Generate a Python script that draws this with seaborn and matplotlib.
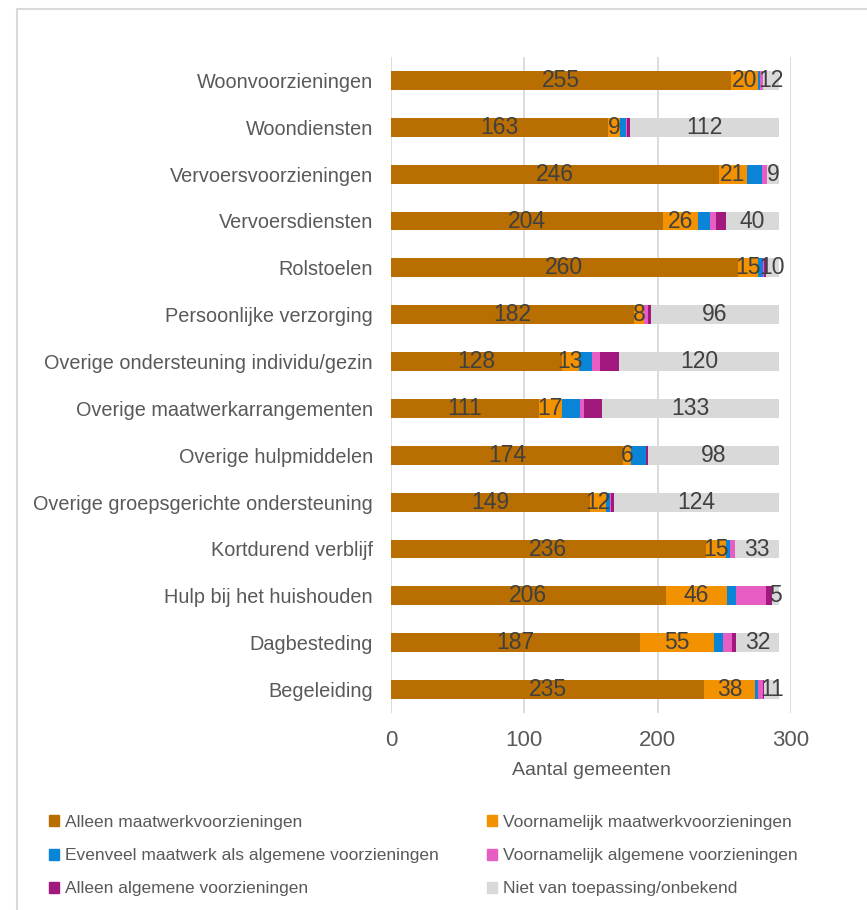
import numpy as np
import pandas as pd
import matplotlib
matplotlib.use("Agg")
import matplotlib.pyplot as plt
import seaborn as sns
from matplotlib.lines import Line2D

# Categories (top to bottom) and the six stacked series
categories = [
    "Woonvoorzieningen", "Woondiensten", "Vervoersvoorzieningen", "Vervoersdiensten",
    "Rolstoelen", "Persoonlijke verzorging", "Overige ondersteuning individu/gezin",
    "Overige maatwerkarrangementen", "Overige hulpmiddelen",
    "Overige groepsgerichte ondersteuning", "Kortdurend verblijf",
    "Hulp bij het huishouden", "Dagbesteding", "Begeleiding",
]
alleen_maatwerk = [255, 163, 246, 204, 260, 182, 128, 111, 174, 149, 236, 206, 187, 235]
voornamelijk_maatwerk = [20, 9, 21, 26, 15, 8, 13, 17, 6, 12, 15, 46, 55, 38]
evenveel = [2, 4, 11, 9, 4, 0, 10, 14, 11, 3, 3, 7, 7, 2]
voornamelijk_algemeen = [2, 1, 4, 5, 1, 3, 6, 3, 0, 1, 4, 22, 7, 4]
alleen_algemeen = [0, 2, 0, 7, 1, 2, 14, 13, 2, 2, 0, 5, 3, 1]
niet_van_toepassing = [12, 112, 9, 40, 10, 96, 120, 133, 98, 124, 33, 5, 32, 11]

series_names = [
    "Alleen maatwerkvoorzieningen", "Voornamelijk maatwerkvoorzieningen",
    "Evenveel maatwerk als algemene voorzieningen", "Voornamelijk algemene voorzieningen",
    "Alleen algemene voorzieningen", "Niet van toepassing/onbekend",
]
colors = ["#B86E00", "#F39200", "#0A84D6", "#E65DC3", "#A2197E", "#D9D9D9"]
labelled = [True, True, False, False, False, True]

df = pd.DataFrame(
    dict(zip(series_names, [alleen_maatwerk, voornamelijk_maatwerk, evenveel,
                            voornamelijk_algemeen, alleen_algemeen, niet_van_toepassing])),
    index=categories,
)
cum = df.cumsum(axis=1)

sns.set_theme(style="white")
plt.rcParams["font.family"] = ["Liberation Sans", "DejaVu Sans"]

fig = plt.figure(figsize=(8.67, 9.10), dpi=100)
ax = fig.add_axes([391 / 867, 1 - 713 / 910, 400 / 867, 656 / 910])

# stacked bars: draw cumulative totals from the widest down
for name, col in reversed(list(zip(series_names, colors))):
    sns.barplot(x=cum[name].values, y=categories, orient="h", color=col,
                width=0.4, linewidth=0, saturation=1, ax=ax)

# value labels centred in their segments
for name, show in zip(series_names, labelled):
    if not show:
        continue
    for i, cat in enumerate(categories):
        v = df.loc[cat, name]
        if v > 0:
            ax.text(cum.loc[cat, name] - v / 2, i, str(v), ha="center", va="center",
                    fontsize=16.5, color="#404040")

ax.set_xlim(0, 300)
ax.set_xticks([0, 100, 200, 300])
ax.grid(axis="x", color="#D9D9D9", linewidth=1.3)
ax.grid(axis="y", visible=False)
ax.set_axisbelow(True)
for s in ax.spines.values():
    s.set_visible(False)
ax.tick_params(axis="y", length=0, pad=13, labelsize=14.3, labelcolor="#595959")
ax.tick_params(axis="x", length=0, pad=12, labelsize=16, labelcolor="#595959")
ax.set_ylabel("")
ax.set_xlabel("Aantal gemeenten", fontsize=14, color="#595959", labelpad=8)

# legend in two columns, row-wise order
handles = [plt.Rectangle((0, 0), 1, 1, color=c) for c in colors]
leg_kw = dict(frameon=False, fontsize=12.5, handlelength=0.6, handleheight=0.6,
              handletextpad=0.3, labelspacing=1.05, labelcolor="#595959", borderaxespad=0)
fig.legend(handles[0::2], series_names[0::2], loc="upper left",
           bbox_to_anchor=(42 / 867, 1 - 808 / 910), **leg_kw)
fig.legend(handles[1::2], series_names[1::2], loc="upper left",
           bbox_to_anchor=(480 / 867, 1 - 808 / 910), **leg_kw)

# light frame lines (top and left)
fig.add_artist(Line2D([17 / 867, 1], [1 - 8.5 / 910] * 2, transform=fig.transFigure,
                      color="#D9D9D9", linewidth=1.5))
fig.add_artist(Line2D([17 / 867] * 2, [0, 1 - 8.5 / 910], transform=fig.transFigure,
                      color="#D9D9D9", linewidth=1.5))

fig.savefig("out.png", dpi=100, facecolor="white")
